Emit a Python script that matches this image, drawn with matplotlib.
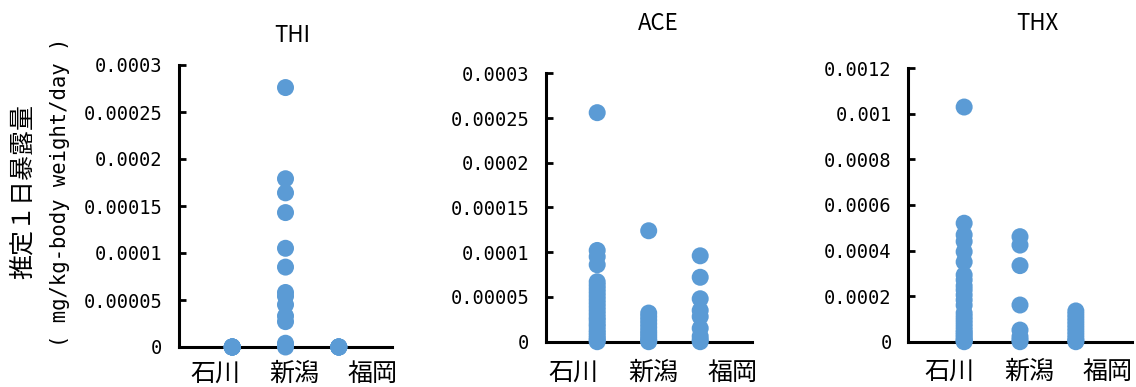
import matplotlib
matplotlib.use('Agg')
import matplotlib.pyplot as plt

plt.rcParams['font.family'] = ['Noto Sans CJK JP', 'DejaVu Sans']

# categories and values
cities = ['石川', '新潟', '福岡']
titles = ['THI', 'ACE', 'THX']

thi_ishikawa = [0, 0, 0, 0, 0, 0]
thi_niigata = [0.000276, 0.000179, 0.000164, 0.000143, 0.000105, 0.000085,
               0.000058, 0.000054, 0.000045, 0.000033, 0.000027, 0.000004,
               0.000002, 0]
thi_fukuoka = [0, 0, 0, 0, 0]

ace_ishikawa = [0.000256, 0.000102, 0.000095, 0.000086, 0.000067, 0.000063,
                0.000059, 0.000055, 0.000051, 0.000047, 0.000043, 0.000039,
                0.000035, 0.000031, 0.000027, 0.000024, 0.00002, 0.000017,
                0.000013, 0.00001, 0.000007, 0.000004, 0.000002, 0]
ace_niigata = [0.000124, 0.000032, 0.000028, 0.000024, 0.00002, 0.000016,
               0.000012, 0.000009, 0.000006, 0.000003, 0.000001, 0]
ace_fukuoka = [0.000096, 0.000072, 0.000048, 0.000035, 0.000028, 0.000015,
               0.000006, 0.000002, 0]

thx_ishikawa = [0.00103, 0.00052, 0.000469, 0.00044, 0.000395, 0.00035,
                0.000293, 0.000271, 0.000245, 0.000227, 0.000205, 0.000183,
                0.00016, 0.000126, 0.00011, 0.000095, 0.00008, 0.000065,
                0.00005, 0.00004, 0.00003, 0.00002, 0.00001, 0.000004, 0]
thx_niigata = [0.000461, 0.000424, 0.000334, 0.000161, 0.000051, 0.000022,
               0.000008, 0]
thx_fukuoka = [0.000135, 0.00012, 0.000105, 0.00009, 0.000075, 0.00006,
               0.000045, 0.00003, 0.000015, 0.000005, 0]

thi_ticks = [0, 0.00005, 0.0001, 0.00015, 0.0002, 0.00025, 0.0003]
thi_labels = ['0', '0.00005', '0.0001', '0.00015', '0.0002', '0.00025', '0.0003']
ace_ticks = thi_ticks
ace_labels = thi_labels
thx_ticks = [0, 0.0002, 0.0004, 0.0006, 0.0008, 0.001, 0.0012]
thx_labels = ['0', '0.0002', '0.0004', '0.0006', '0.0008', '0.001', '0.0012']

panels = [
    ([thi_ishikawa, thi_niigata, thi_fukuoka], thi_ticks, thi_labels),
    ([ace_ishikawa, ace_niigata, ace_fukuoka], ace_ticks, ace_labels),
    ([thx_ishikawa, thx_niigata, thx_fukuoka], thx_ticks, thx_labels),
]

W, H = 1136, 387
# axes boxes in pixels: left, right, top, bottom
boxes = [(179, 392, 65, 347), (545.7, 751.7, 73.3, 341.7), (908.3, 1131.7, 68.3, 341.7)]
title_pos = [(292, 35), (658, 23), (1037, 23)]
# category labels sit wider apart than the dots (pixel centres)
label_px = [(215, 294, 373), (573, 653, 733), (949, 1029, 1108)]
label_y = [374, 373, 372]

color = '#5B9BD5'

fig = plt.figure(figsize=(W / 100, H / 100), dpi=100)

for i, (series, ticks, labels) in enumerate(panels):
    l, r, t, b = boxes[i]
    ax = fig.add_axes([l / W, 1 - b / H, (r - l) / W, (b - t) / H])
    for j, vals in enumerate(series):
        ax.scatter([j + 1] * len(vals), vals, s=150, color=color,
                   edgecolors='none', zorder=3, clip_on=False)
    ax.set_xlim(0, 4)
    ax.set_ylim(ticks[0], ticks[-1])
    ax.set_xticks([])
    ax.set_yticks(ticks)
    ax.set_yticklabels(labels, family=['DejaVu Sans Mono'], fontsize=13.5)
    ax.tick_params(axis='y', direction='in', length=5, width=2, pad=12)
    for side in ['top', 'right']:
        ax.spines[side].set_visible(False)
    for side in ['left', 'bottom']:
        ax.spines[side].set_linewidth(2.2)
    for name, px in zip(cities, label_px[i]):
        fig.text(px / W, 1 - label_y[i] / H, name, ha='center', va='center', fontsize=18)
    tx, ty = title_pos[i]
    fig.text(tx / W, 1 - ty / H, titles[i], ha='center', va='center', fontsize=16)

fig.text(23 / W, 0.505, '推定１日暴露量', rotation=90, ha='center', va='center', fontsize=18)
fig.text(60 / W, 0.504, '( mg/kg-body weight/day )', rotation=90, ha='center', va='center',
         fontsize=14.8, family=['DejaVu Sans Mono'])

fig.savefig('out.png', dpi=100)
